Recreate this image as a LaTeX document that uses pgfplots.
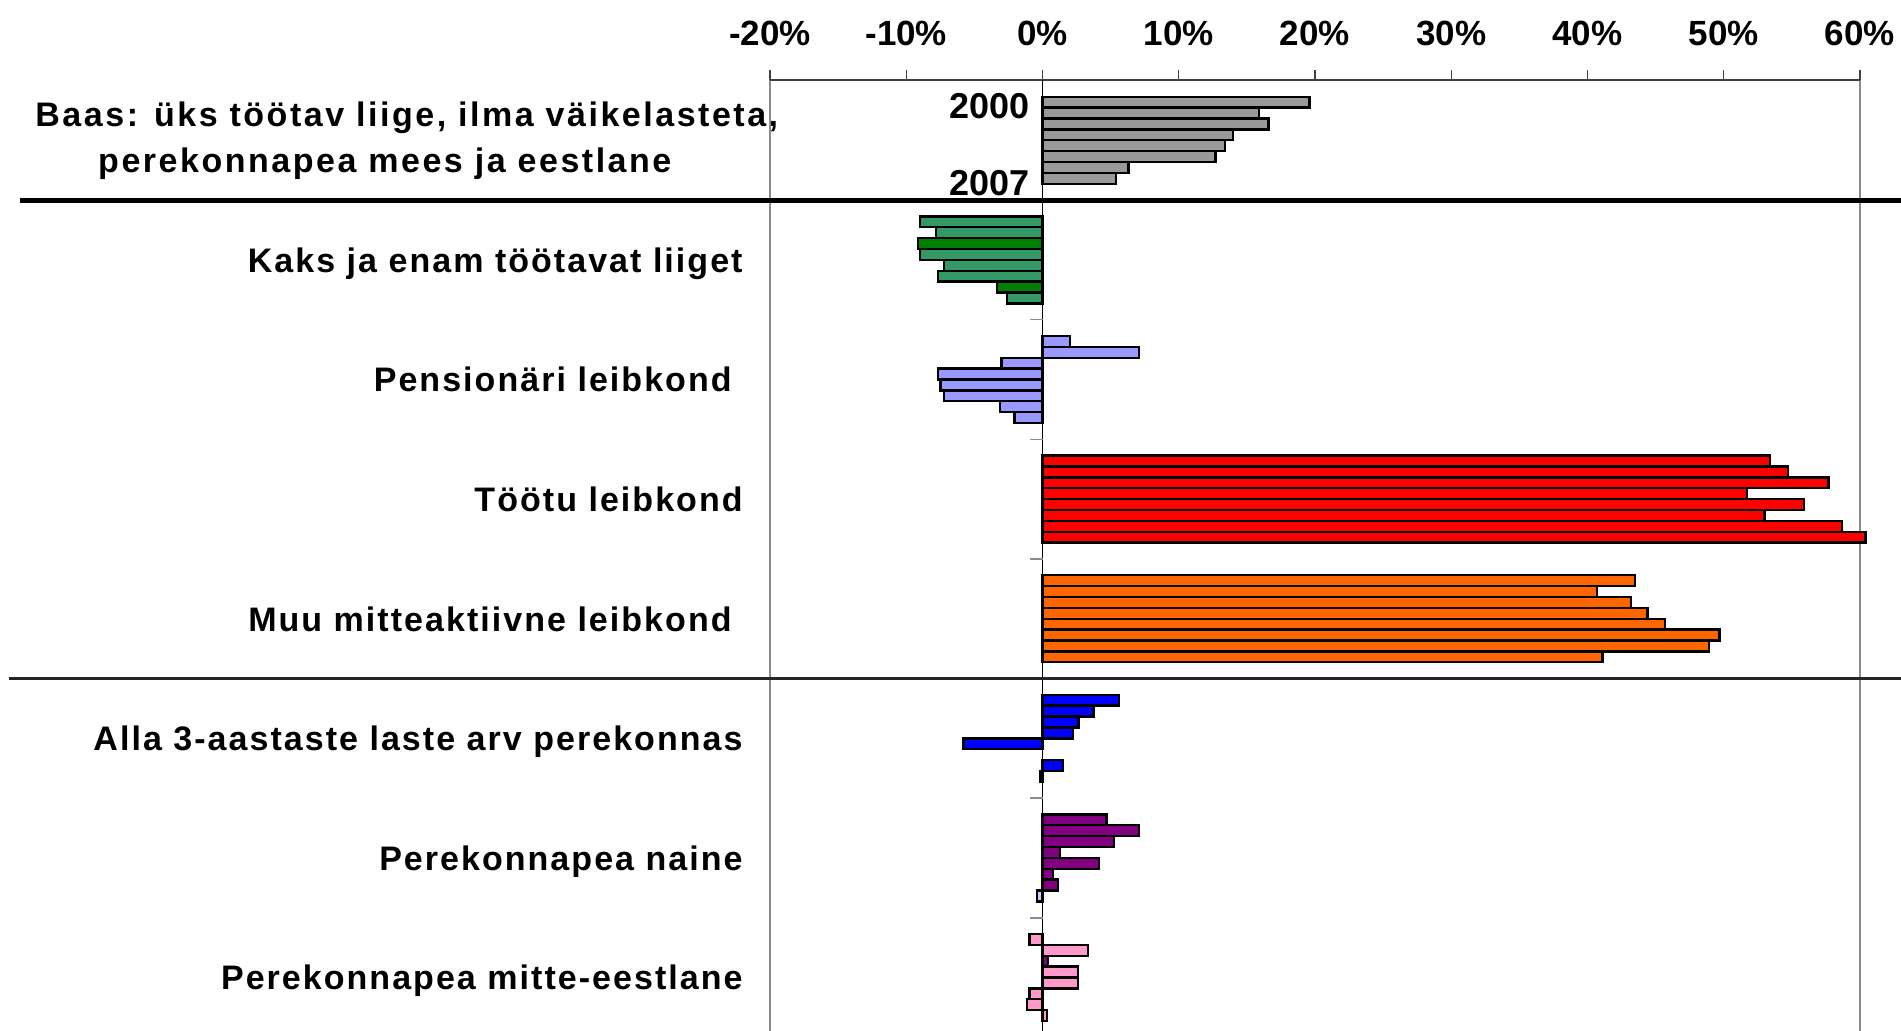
\documentclass[border=0pt]{standalone}
\usepackage{fontspec}
\setmainfont{Liberation Sans}
\usepackage{pgfplots}
\pgfplotsset{compat=1.18}
\definecolor{cgray}{HTML}{999999}
\definecolor{cgreen}{HTML}{339966}
\definecolor{cdgreen}{HTML}{008000}
\definecolor{clav}{HTML}{9999FF}
\definecolor{cred}{HTML}{FF0000}
\definecolor{corange}{HTML}{FF6600}
\definecolor{cblue}{HTML}{0000FF}
\definecolor{cpurple}{HTML}{800080}
\definecolor{cpink}{HTML}{FF99CC}
\definecolor{clight}{HTML}{CCCCFF}
\definecolor{cgrid}{HTML}{8C8C8C}
\newcommand\catfont{\fontsize{17}{22.5}\selectfont\bfseries\addfontfeature{LetterSpace=6}}
\newcommand\nd[1]{\raisebox{0pt}[\height][0pt]{#1}}
\begin{document}
\begin{tikzpicture}
\begin{axis}[
  at={(385pt,0pt)}, anchor=south west,
  width=545pt, height=475.25pt, scale only axis,
  xmin=-20, xmax=60, ymin=-8.447, ymax=-0.5,
  axis line style={draw=none},
  clip=false,
  xtick={-20,-10,...,60},
  xticklabels={-20\%,-10\%,0\%,10\%,20\%,30\%,40\%,50\%,60\%},
  xtick pos=right, xticklabel pos=right,
  tick align=outside, major tick length=5pt,
  xtick style={draw=black!75, line width=0.7pt},
  xticklabel style={font=\fontsize{17.5}{20}\selectfont\bfseries, anchor=base, inner sep=0pt, yshift=12.4pt},
  ytick={-1,-2,...,-8},
  yticklabels={
    {\raisebox{-3pt}{\makebox[0pt][r]{\fontsize{17}{23.2}\selectfont\addfontfeature{LetterSpace=7.4}\begin{tabular}{@{}c@{}}Baas: üks töötav liige, ilma väikelasteta,\\perekonnapea mees ja eestlane\hspace*{22pt}\end{tabular}\hspace*{-18.3pt}}}},
    {\nd{Kaks ja enam töötavat liiget}},
    {\nd{Pensionäri leibkond\hspace*{5.5pt}}},
    {\nd{Töötu leibkond}},
    {\nd{Muu mitteaktiivne leibkond\hspace*{5.5pt}}},
    {\nd{Alla 3-aastaste laste arv perekonnas}},
    {\nd{Perekonnapea naine}},
    {\nd{Perekonnapea mitte-eestlane}}},
  ytick style={draw=none},
  yticklabel style={font=\catfont, anchor=east, inner sep=0pt, xshift=-8.5pt},
  mybar/.style={xbar, bar shift=0pt, bar width=0.091, draw=black, line width=1.2pt},
]
% frame lines
\draw[cgrid, line width=1.2pt] (axis cs:-20,-0.5) -- (axis cs:-20,-8.447);
\draw[cgrid, line width=1.2pt] (axis cs:60,-0.5) -- (axis cs:60,-8.447);
\draw[black!75, line width=1pt] (axis cs:-20,-0.5) -- (axis cs:60,-0.5);

% Group 1: base
\addplot[mybar, fill=cgray] table[row sep=\\, x=v, y expr={-1+(3.5-\thisrow{k})*0.091}] {
k v\\ 0 19.6\\ 1 15.9\\ 2 16.6\\ 3 14.0\\ 4 13.4\\ 5 12.7\\ 6 6.3\\ 7 5.4\\};
% Group 2: two or more working members
\addplot[mybar, fill=cgreen] table[row sep=\\, x=v, y expr={-2+(3.5-\thisrow{k})*0.091}] {
k v\\ 0 -9.0\\ 1 -7.8\\ 3 -9.0\\ 4 -7.25\\ 5 -7.65\\ 7 -2.6\\};
\addplot[mybar, fill=cdgreen] table[row sep=\\, x=v, y expr={-2+(3.5-\thisrow{k})*0.091}] {
k v\\ 2 -9.15\\ 6 -3.35\\};
% Group 3: pensioner
\addplot[mybar, fill=clav] table[row sep=\\, x=v, y expr={-3+(3.5-\thisrow{k})*0.091}] {
k v\\ 0 2.0\\ 1 7.1\\ 2 -3.0\\ 3 -7.65\\ 4 -7.5\\ 5 -7.25\\ 6 -3.1\\ 7 -2.05\\};
% Group 4: unemployed
\addplot[mybar, fill=cred] table[row sep=\\, x=v, y expr={-4+(3.5-\thisrow{k})*0.091}] {
k v\\ 0 53.4\\ 1 54.7\\ 2 57.7\\ 3 51.7\\ 4 55.9\\ 5 53.0\\ 6 58.7\\ 7 60.4\\};
% Group 5: other inactive
\addplot[mybar, fill=corange] table[row sep=\\, x=v, y expr={-5+(3.5-\thisrow{k})*0.091}] {
k v\\ 0 43.5\\ 1 40.7\\ 2 43.2\\ 3 44.4\\ 4 45.7\\ 5 49.7\\ 6 48.9\\ 7 41.1\\};
% Group 6: children under 3
\addplot[mybar, fill=cblue] table[row sep=\\, x=v, y expr={-6+(3.5-\thisrow{k})*0.091}] {
k v\\ 0 5.6\\ 1 3.75\\ 2 2.65\\ 3 2.25\\ 4 -5.8\\ 6 1.5\\};
\addplot[mybar, fill=black] table[row sep=\\, x=v, y expr={-6+(3.5-\thisrow{k})*0.091}] {
k v\\ 7 -0.2\\};
% Group 7: female head
\addplot[mybar, fill=cpurple] table[row sep=\\, x=v, y expr={-7+(3.5-\thisrow{k})*0.091}] {
k v\\ 0 4.7\\ 1 7.1\\ 2 5.25\\ 3 1.3\\ 4 4.15\\ 5 0.75\\ 6 1.15\\};
\addplot[mybar, fill=clight] table[row sep=\\, x=v, y expr={-7+(3.5-\thisrow{k})*0.091}] {
k v\\ 7 -0.4\\};
% Group 8: non-Estonian head
\addplot[mybar, fill=cpink] table[row sep=\\, x=v, y expr={-8+(3.5-\thisrow{k})*0.091}] {
k v\\ 0 -0.95\\ 1 3.35\\ 3 2.6\\ 4 2.6\\ 5 -0.95\\ 6 -1.15\\ 7 0.35\\};
\addplot[mybar, fill=cpurple] table[row sep=\\, x=v, y expr={-8+(3.5-\thisrow{k})*0.091}] {
k v\\ 2 0.4\\};

% zero line and category ticks
\draw[black, line width=0.9pt] (axis cs:0,-0.5) -- (axis cs:0,-8.447);
\draw[cgrid, line width=0.8pt] (axis cs:-0.9,-2.5) -- (axis cs:0,-2.5);
\draw[cgrid, line width=0.8pt] (axis cs:-0.9,-3.5) -- (axis cs:0,-3.5);
\draw[cgrid, line width=0.8pt] (axis cs:-0.9,-4.5) -- (axis cs:0,-4.5);
\draw[cgrid, line width=0.8pt] (axis cs:-0.9,-6.5) -- (axis cs:0,-6.5);
\draw[cgrid, line width=0.8pt] (axis cs:-0.9,-7.5) -- (axis cs:0,-7.5);
% year labels
\node[anchor=base east, inner sep=0pt, font=\fontsize{18}{20}\selectfont\bfseries] at (axis cs:-0.9,-0.822) {2000};
\node[anchor=base east, inner sep=0pt, font=\fontsize{18}{20}\selectfont\bfseries] at (axis cs:-0.9,-1.4607) {2007};
% separators
\draw[black, line width=2.5pt] (axis cs:-75.05,-1.5) -- (axis cs:63.01,-1.5);
\draw[black!85, line width=1.4pt] (axis cs:-75.83,-5.5) -- (axis cs:63.01,-5.5);
\end{axis}
\pgfresetboundingbox
\useasboundingbox (0pt,0pt) rectangle (950.5pt,515.5pt);
\end{tikzpicture}
\end{document}
